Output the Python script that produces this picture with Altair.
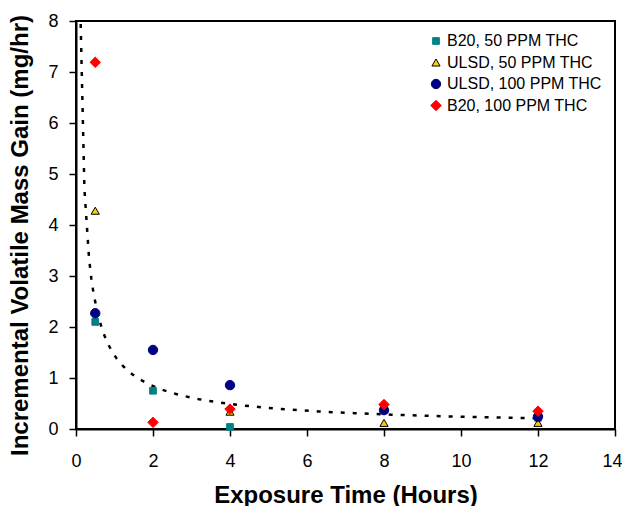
import altair as alt
import pandas as pd

series_names = ["B20, 50 PPM THC", "ULSD, 50 PPM THC", "ULSD, 100 PPM THC", "B20, 100 PPM THC"]
colors = ["#008080", "#FFCC00", "#000080", "#FF0000"]
strokes = ["#008080", "#000000", "#000080", "#FF0000"]
shapes = ["square", "triangle-up", "circle", "diamond"]
sizes = [45, 110, 90, 90]

b20_50_time = [0.5, 2, 4, 8, 12]
b20_50_gain = [2.10, 0.75, 0.04, 0.40, 0.22]
ulsd_50_time = [0.5, 4, 8, 12]
ulsd_50_gain = [4.28, 0.34, 0.12, 0.12]
ulsd_100_time = [0.5, 2, 4, 8, 12]
ulsd_100_gain = [2.27, 1.55, 0.86, 0.37, 0.24]
b20_100_time = [0.5, 2, 4, 8, 12]
b20_100_gain = [7.19, 0.13, 0.39, 0.48, 0.35]

rows = []
for name, ts, gs in [
    (series_names[0], b20_50_time, b20_50_gain),
    (series_names[1], ulsd_50_time, ulsd_50_gain),
    (series_names[2], ulsd_100_time, ulsd_100_gain),
    (series_names[3], b20_100_time, b20_100_gain),
]:
    for t, g in zip(ts, gs):
        rows.append({"Series": name, "Time": t, "Gain": g})
df = pd.DataFrame(rows)

x_scale = alt.Scale(domain=[0, 14], nice=False, zero=False)
y_scale = alt.Scale(domain=[0, 8], nice=False)

x_axis = alt.Axis(
    title="Exposure Time (Hours)", values=list(range(0, 15, 2)), grid=False,
    titleBaseline="alphabetic", titleY=73, titleFontSize=24, titleFontWeight="bold",
    labelPadding=16, labelFlush=False,
    labelOffset={"condition": {"test": "datum.value == 14", "value": -3}, "value": 0},
)
y_axis = alt.Axis(
    title="Incremental Volatile Mass Gain (mg/hr)", values=list(range(0, 9)), grid=False,
    titleBaseline="alphabetic", titleX=-49, titleY=214, titleFontSize=24,
    titleFontWeight="bold", labelPadding=11, labelFlush=False,
)

legend = alt.Legend(
    title=None, orient="none", legendX=352, legendY=12, labelFontSize=16,
    labelFont="Liberation Sans", labelColor="black", rowPadding=5.5,
    symbolStrokeWidth=1, labelOffset=3, padding=0,
)

points = alt.Chart(df).mark_point(filled=True, opacity=1, strokeWidth=1).encode(
    x=alt.X("Time:Q", scale=x_scale, axis=x_axis),
    y=alt.Y("Gain:Q", scale=y_scale, axis=y_axis),
    color=alt.Color("Series:N", scale=alt.Scale(domain=series_names, range=colors), legend=legend),
    fill=alt.Fill("Series:N", scale=alt.Scale(domain=series_names, range=colors), legend=legend),
    stroke=alt.Stroke("Series:N", scale=alt.Scale(domain=series_names, range=strokes), legend=legend),
    shape=alt.Shape("Series:N", scale=alt.Scale(domain=series_names, range=shapes), legend=legend),
    size=alt.Size("Series:N", scale=alt.Scale(domain=series_names, range=sizes), legend=legend),
)

trend = alt.Chart(df).transform_filter(
    alt.datum.Series == "B20, 100 PPM THC"
).transform_regression(
    "Time", "Gain", method="pow", extent=[0.1, 12]
).mark_line(color="black", strokeWidth=2.5, strokeDash=[4, 8], clip=True).encode(
    x=alt.X("Time:Q", scale=x_scale),
    y=alt.Y("Gain:Q", scale=y_scale),
)

chart = alt.layer(trend, points).properties(
    width=539, height=408,
    padding={"left": 76, "top": 21, "right": 7, "bottom": 77},
    autosize=alt.AutoSizeParams(type="none"),
    background="white",
).configure_view(
    stroke="black", strokeWidth=2,
).configure_axis(
    domainColor="black", domainWidth=2, tickColor="black", tickWidth=1.5, tickSize=7,
    labelFont="Liberation Sans", labelFontSize=18, labelColor="black",
    titleFont="Liberation Sans", titleColor="black",
)

chart.save("out.html", embed_options={"renderer": "svg", "actions": False})
